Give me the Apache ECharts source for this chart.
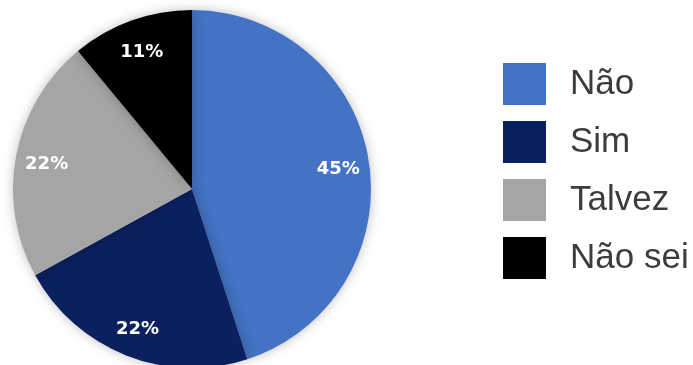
<!DOCTYPE html>
<html><head><meta charset="utf-8">
<script src="https://cdn.jsdelivr.net/npm/echarts@6/dist/echarts.min.js"></script>
<style>html,body{margin:0;padding:0;background:#fff}#c{width:693px;height:365px}</style>
</head><body><div id="c"></div>
<script>
const categories = ['Não', 'Sim', 'Talvez', 'Não sei'];
const values = [45, 22, 22, 11];
const colors = ['#4472C4', '#0B205E', '#A5A5A5', '#000000'];

const data = categories.map((n, i) => ({ name: n, value: values[i], itemStyle: { color: colors[i] } }));
const chart = echarts.init(document.getElementById('c'));
chart.setOption({
  animation: false,
  legend: {
    orient: 'vertical', left: 498, top: 58,
    itemWidth: 43, itemHeight: 42, itemGap: 16,
    icon: 'rect',
    textStyle: { fontSize: 35, lineHeight: 42, color: '#3c3c3c', fontFamily: 'Liberation Sans, Arial, sans-serif', padding: [0, 0, 0, 19] },
    data: categories
  },
  series: [
    {
      type: 'pie', center: [192, 189], radius: 179, startAngle: 90, clockwise: true,
      silent: true,
      label: { show: false }, labelLine: { show: false },
      itemStyle: { shadowBlur: 12, shadowColor: 'rgba(0,0,0,0.25)' },
      data: data
    },
    {
      type: 'pie', center: [192, 189], radius: [111, 179], startAngle: 90, clockwise: true,
      silent: true,
      itemStyle: { color: 'rgba(0,0,0,0)' },
      label: { show: true, position: 'inside', formatter: p => p.value + '%', color: '#fff',
        fontSize: 18, fontWeight: 'bold', fontFamily: 'DejaVu Sans, sans-serif', offset: [0, 3] },
      labelLine: { show: false },
      data: categories.map((n, i) => ({ name: n, value: values[i], itemStyle: { color: 'rgba(0,0,0,0)' } }))
    }
  ]
});
</script></body></html>
